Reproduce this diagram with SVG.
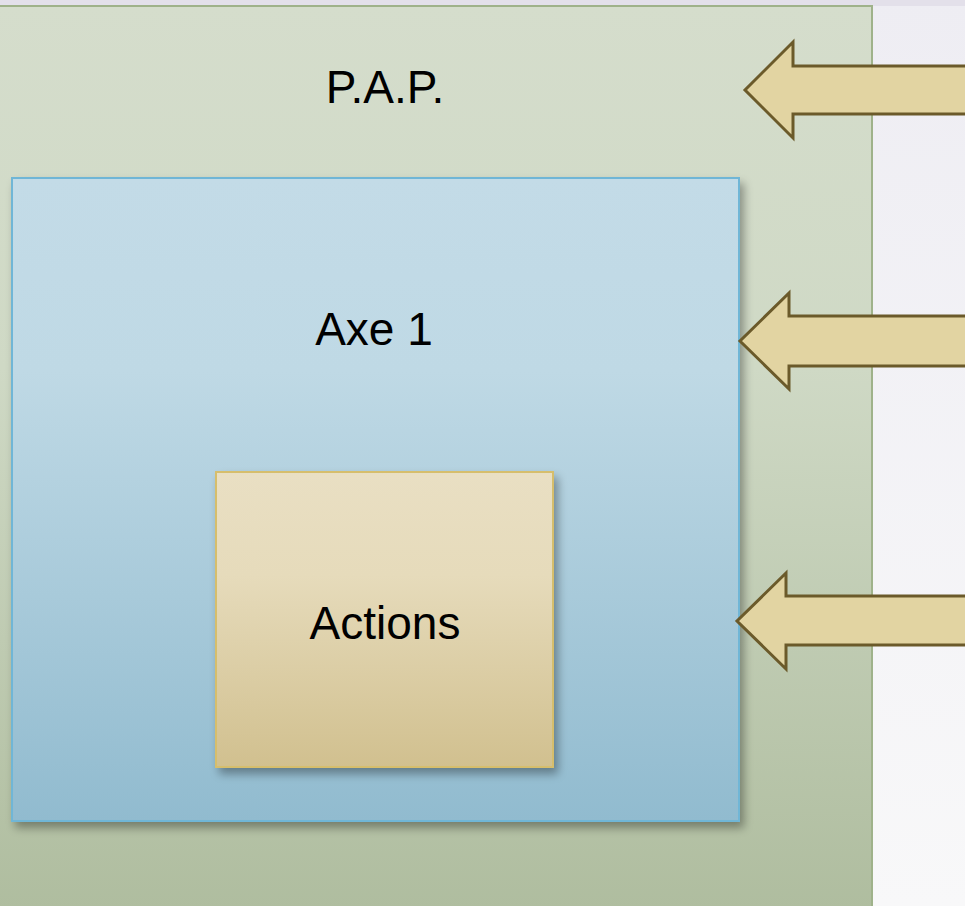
<svg xmlns="http://www.w3.org/2000/svg" width="965" height="906" viewBox="0 0 965 906">
<defs>
<linearGradient id="bg" x1="0" y1="0" x2="0" y2="1"><stop offset="0" stop-color="#eeedf3"/><stop offset="1" stop-color="#f8f8f9"/></linearGradient>
<linearGradient id="gG" x1="0" y1="0" x2="0" y2="1"><stop offset="0" stop-color="#d5ddcc"/><stop offset="0.4" stop-color="#cfd9c5"/><stop offset="1" stop-color="#afbd9f"/></linearGradient>
<linearGradient id="gB" x1="0" y1="0" x2="0" y2="1"><stop offset="0" stop-color="#c3dbe7"/><stop offset="0.3" stop-color="#bfd9e5"/><stop offset="1" stop-color="#91bbcf"/></linearGradient>
<linearGradient id="gA" x1="0" y1="0" x2="0" y2="1"><stop offset="0" stop-color="#e9dfc3"/><stop offset="0.35" stop-color="#e6dbbb"/><stop offset="1" stop-color="#d1c08f"/></linearGradient>
<filter id="sh" x="-10%" y="-10%" width="125%" height="125%"><feGaussianBlur in="SourceAlpha" stdDeviation="5"/><feOffset dx="4" dy="6"/><feComponentTransfer><feFuncA type="linear" slope="0.35"/></feComponentTransfer><feMerge><feMergeNode/><feMergeNode in="SourceGraphic"/></feMerge></filter>
</defs>
<style>
.lbl{font-family:"Liberation Sans","DejaVu Sans",sans-serif;font-size:46px;fill:#000;text-anchor:middle}
.arr{fill:#e2d4a2;stroke:#6b5a2a;stroke-width:3;stroke-linejoin:miter}
</style>
<rect x="0" y="0" width="965" height="906" fill="url(#bg)"/>
<rect x="0" y="0" width="965" height="6" fill="#e3e0ea"/>
<g id="pap">
<rect x="-2" y="6" width="874" height="904" fill="url(#gG)" stroke="#9fb28a" stroke-width="2"/>
<text class="lbl" x="385" y="103">P.A.P.</text>
</g>
<g id="axe1">
<rect x="12" y="178" width="727" height="643" fill="url(#gB)" stroke="#6fb6d6" stroke-width="2" filter="url(#sh)"/>
<text class="lbl" x="374" y="345">Axe 1</text>
</g>
<g id="actions">
<rect x="216" y="472" width="337" height="295" fill="url(#gA)" stroke="#d6be6c" stroke-width="2" filter="url(#sh)"/>
<text class="lbl" x="385" y="639">Actions</text>
</g>
<g id="connectors">
<path class="arr" d="M970 66 L793 66 L793 42 L745 90 L793 138 L793 114 L970 114"/>
<path class="arr" d="M970 316 L789 316 L789 293 L740 341 L789 389 L789 366 L970 366"/>
<path class="arr" d="M970 596 L786 596 L786 573 L737 621 L786 669 L786 645 L970 645"/>
</g>
</svg>
